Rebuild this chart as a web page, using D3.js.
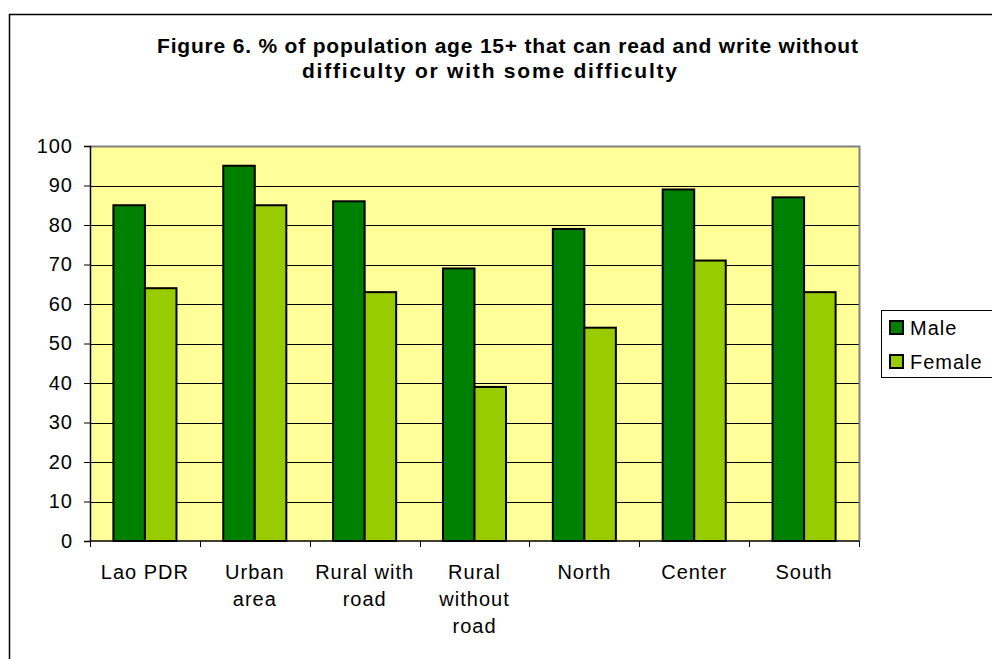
<!DOCTYPE html>
<html>
<head>
<script src="https://d3js.org/d3.v7.min.js"></script>
<style>
body { margin: 0; background: #fff; }
text { font-family: Arial, "Liberation Sans", sans-serif; fill: #000; }
</style>
</head>
<body>
<svg width="992" height="659"></svg>
<script>
// data
var categories = [["Lao PDR"], ["Urban", "area"], ["Rural with", "road"], ["Rural", "without", "road"], ["North"], ["Center"], ["South"]];
var male = [85, 95, 86, 69, 79, 89, 87];
var female = [64, 85, 63, 39, 54, 71, 63];
var series = ["Male", "Female"];
var colors = ["#008000", "#99CC00"];
var yTicks = [0, 10, 20, 30, 40, 50, 60, 70, 80, 90, 100];
var titleLines = ["Figure 6. % of population age 15+ that can read and write without", "difficulty or with some difficulty"];

var svg = d3.select("svg");
var pLeft = 90, pRight = 859, pTop = 146, pBottom = 541;

// outer chart frame
svg.append("rect").attr("x", 9.5).attr("y", 14.5).attr("width", 1000).attr("height", 700)
  .style("fill", "none").style("stroke", "#000").style("stroke-width", 1.5);

// title
var titlePos = [[157, 53, 701], [302, 78, 375]];
titleLines.forEach(function(t, k){
  svg.append("text").attr("x", titlePos[k][0]).attr("y", titlePos[k][1])
    .attr("textLength", titlePos[k][2]).attr("lengthAdjust", "spacing")
    .style("font-size", "21px").style("font-weight", "bold")
    .text(t);
});

var x = d3.scaleBand().domain(d3.range(categories.length)).range([pLeft, pRight]);
var y = d3.scaleLinear().domain([0, 100]).range([pBottom, pTop]);
var barW = x.bandwidth() * 0.287;

// plot background
svg.append("rect").attr("x", pLeft).attr("y", pTop).attr("width", pRight - pLeft).attr("height", pBottom - pTop)
  .style("fill", "#FFFF99");

// gridlines
svg.selectAll(".grid").data(yTicks.slice(1, -1)).enter().append("line")
  .attr("x1", pLeft).attr("x2", pRight)
  .attr("y1", function(d){ return Math.round(y(d)) + 0.5; })
  .attr("y2", function(d){ return Math.round(y(d)) + 0.5; })
  .style("stroke", "#000").style("stroke-width", 1);

// plot border top/right grey
svg.append("path").attr("d", "M" + pLeft + "," + (pTop + 0.5) + "H" + (pRight + 0.5) + "V" + pBottom)
  .style("fill", "none").style("stroke", "#808080").style("stroke-width", 2);

// bars
var data = [];
categories.forEach(function(c, i){
  data.push({i: i, s: 0, v: male[i]});
  data.push({i: i, s: 1, v: female[i]});
});
svg.selectAll(".bar").data(data).enter().append("rect")
  .attr("x", function(d){ return x(d.i) + x.bandwidth() / 2 - barW + d.s * barW; })
  .attr("y", function(d){ return y(d.v); })
  .attr("width", barW)
  .attr("height", function(d){ return y(0) - y(d.v); })
  .style("fill", function(d){ return colors[d.s]; })
  .style("stroke", "#000").style("stroke-width", 2);

// y axis
var yAxis = svg.append("g").attr("transform", "translate(" + pLeft + ",0)")
  .call(d3.axisLeft(y).tickValues(yTicks).tickSize(6).tickPadding(11));
yAxis.select(".domain").style("stroke-width", 1.5);
yAxis.selectAll("text").style("font-size", "20px").style("letter-spacing", "1px")
  .attr("font-family", "Arial, 'Liberation Sans', sans-serif").style("fill", "#000");

// x axis
var xAxis = svg.append("g").attr("transform", "translate(0," + pBottom + ")");
xAxis.append("line").attr("x1", pLeft).attr("x2", pRight).attr("y1", 0).attr("y2", 0)
  .style("stroke", "#000").style("stroke-width", 1.5);
xAxis.selectAll(".tk").data(d3.range(categories.length + 1)).enter().append("line")
  .attr("x1", function(d){ return Math.round(pLeft + d * x.step()) + 0.5; })
  .attr("x2", function(d){ return Math.round(pLeft + d * x.step()) + 0.5; })
  .attr("y1", 0).attr("y2", 6).style("stroke", "#000");
categories.forEach(function(c, i){
  var t = svg.append("text").attr("text-anchor", "middle").style("font-size", "20px").style("letter-spacing", "1px");
  c.forEach(function(line, k){
    t.append("tspan").attr("x", x(i) + x.bandwidth() / 2).attr("y", 579 + k * 27).text(line);
  });
});

// legend
var lg = svg.append("g");
lg.append("rect").attr("x", 881.5).attr("y", 310.5).attr("width", 115).attr("height", 67)
  .style("fill", "#fff").style("stroke", "#000").style("stroke-width", 1);
series.forEach(function(s, k){
  lg.append("rect").attr("x", 890).attr("y", 321 + k * 34).attr("width", 13).attr("height", 13)
    .style("fill", colors[k]).style("stroke", "#000").style("stroke-width", 2);
  lg.append("text").attr("x", 910).attr("y", 335 + k * 34).style("font-size", "20px").style("letter-spacing", "1px").text(s);
});
</script>
</body>
</html>
